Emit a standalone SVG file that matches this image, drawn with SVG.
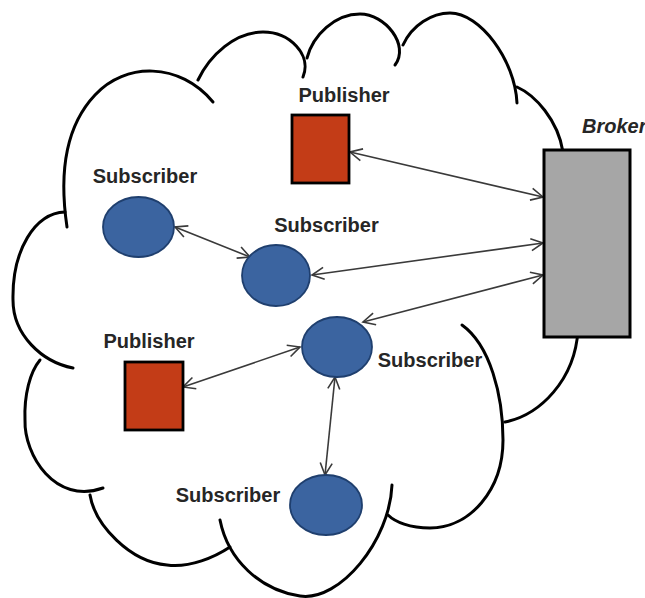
<svg xmlns="http://www.w3.org/2000/svg" width="645" height="598" viewBox="0 0 645 598">
<style>
.cloud{fill:none;stroke:#000;stroke-width:3;stroke-linecap:round}
.conn{fill:none;stroke:#3a3a3a;stroke-width:1.6;marker-start:url(#ah);marker-end:url(#ah)}
.sub{fill:#3B64A0;stroke:#1F3F6E;stroke-width:1.8}
.pub{fill:#C33C17;stroke:#000;stroke-width:2.8}
.brk{fill:#A6A6A6;stroke:#000;stroke-width:3}
.lbl{font-family:"Liberation Sans",Arial,sans-serif;font-weight:bold;font-size:20px;fill:#262626;text-anchor:middle}
</style>
<defs>
<marker id="ah" markerUnits="userSpaceOnUse" markerWidth="16" markerHeight="16" refX="14" refY="8" orient="auto-start-reverse">
<path d="M2,2 L14,8 L2,14" fill="none" stroke="#3a3a3a" stroke-width="1.6"/>
</marker>
</defs>
<rect width="645" height="598" fill="#fff"/>
<g id="cloud">
<path class="cloud" d="M67,227 C60,180 62,130 95,95 C125,62 180,62 213,102"/>
<path class="cloud" d="M198,80 C210,55 235,32 263,32 C290,32 312,55 303,77"/>
<path class="cloud" d="M307,58 C313,35 335,14 360,14 C385,14 410,45 395,65"/>
<path class="cloud" d="M403,45 C412,25 432,13 450,13 C480,13 515,60 517,103"/>
<path class="cloud" d="M517,87 C535,95 558,120 563,152"/>
<path class="cloud" d="M578,330 C575,380 540,415 505,422"/>
<path class="cloud" d="M462,325 C490,345 503,395 503,440 C503,490 470,528 430,528 C410,528 395,522 388,515"/>
<path class="cloud" d="M392,485 C390,540 340,602 300,596 C260,590 228,560 220,520"/>
<path class="cloud" d="M90,495 C95,525 130,562 167,565 C190,568 215,557 230,547"/>
<path class="cloud" d="M40,360 C30,372 24,395 25,420 C24,455 55,505 103,488"/>
<path class="cloud" d="M65,212 C35,213 12,250 13,300 C13,335 42,362 73,368"/>
</g>
<g id="connectors">
<line class="conn" x1="350" y1="152" x2="543" y2="197"/>
<line class="conn" x1="175" y1="227" x2="250" y2="257"/>
<line class="conn" x1="312" y1="275" x2="543" y2="243"/>
<line class="conn" x1="363" y1="322" x2="543" y2="275"/>
<line class="conn" x1="183" y1="387" x2="300" y2="347"/>
<line class="conn" x1="335" y1="377" x2="325" y2="475"/>
</g>
<g id="broker">
<rect class="brk" x="544" y="150" width="86" height="187"/>
<text x="582" y="133" style="font-family:'Liberation Sans',Arial,sans-serif;font-weight:bold;font-style:italic;font-size:20px;fill:#262626">Broker</text>
</g>
<g id="publisher1">
<rect class="pub" x="292" y="115" width="57" height="68"/>
<text class="lbl" x="344" y="102">Publisher</text>
</g>
<g id="publisher2">
<rect class="pub" x="125" y="362" width="58" height="68"/>
<text class="lbl" x="149" y="348">Publisher</text>
</g>
<g id="subscriber1">
<ellipse class="sub" cx="138.5" cy="227" rx="35.5" ry="30"/>
<text class="lbl" x="145" y="183">Subscriber</text>
</g>
<g id="subscriber2">
<ellipse class="sub" cx="276" cy="275.5" rx="34" ry="30.5"/>
<text class="lbl" x="326.5" y="232">Subscriber</text>
</g>
<g id="subscriber3">
<ellipse class="sub" cx="337" cy="347" rx="35" ry="30"/>
<text class="lbl" x="430" y="367">Subscriber</text>
</g>
<g id="subscriber4">
<ellipse class="sub" cx="326" cy="505" rx="36" ry="30"/>
<text class="lbl" x="228" y="502">Subscriber</text>
</g>
</svg>
